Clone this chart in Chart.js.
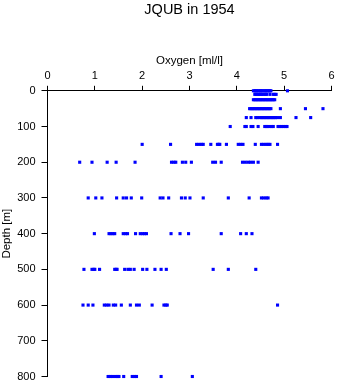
<!DOCTYPE html>
<html>
<head>
<meta charset="utf-8">
<script src="https://cdn.jsdelivr.net/npm/chart.js@4.4.1/dist/chart.umd.min.js"></script>
<style>
  html, body { margin: 0; padding: 0; background: #fff; }
</style>
</head>
<body>
<canvas id="oxygenChart" width="338" height="384"></canvas>
<script>
// Sampling depths (m)
const depths = [0, 10, 25, 50, 75, 100, 150, 200, 300, 400, 500, 600, 800];

// Oxygen readings (ml/l) at each depth
const oxy0 = [4.35, 4.38, 4.40, 4.42, 4.45, 4.47, 4.50, 4.52, 4.55, 4.58, 4.60, 4.63, 4.65, 4.68, 4.70, 4.72, 5.07];
const oxy10 = [4.38, 4.41, 4.44, 4.47, 4.50, 4.53, 4.56, 4.60, 4.63, 4.70, 4.77, 4.80, 4.83];
const oxy25 = [4.35, 4.38, 4.41, 4.44, 4.47, 4.50, 4.53, 4.56, 4.59, 4.62, 4.65, 4.68, 4.71, 4.74, 4.77, 4.80];
const oxy50 = [4.27, 4.30, 4.33, 4.36, 4.39, 4.42, 4.45, 4.48, 4.51, 4.54, 4.57, 4.60, 4.63, 4.66, 4.69, 4.72, 4.92, 5.45, 5.82];
const oxy75 = [4.20, 4.30, 4.40, 4.44, 4.49, 4.52, 4.55, 4.58, 4.61, 4.64, 4.67, 4.70, 4.73, 4.76, 4.79, 4.82, 4.86, 4.92, 5.25, 5.56];
const oxy100 = [3.86, 4.17, 4.20, 4.30, 4.34, 4.45, 4.59, 4.62, 4.65, 4.70, 4.74, 4.77, 4.87, 4.91, 4.95, 4.99, 5.03, 5.06];
const oxy150 = [2.00, 2.60, 3.15, 3.20, 3.25, 3.29, 3.45, 3.59, 3.62, 3.64, 3.78, 4.03, 4.08, 4.13, 4.39, 4.52, 4.57, 4.62, 4.66, 4.70, 4.86];
const oxy200 = [0.68, 0.94, 1.26, 1.45, 1.85, 2.62, 2.67, 2.71, 2.85, 2.92, 3.04, 3.49, 3.55, 3.67, 4.12, 4.18, 4.24, 4.29, 4.35, 4.45];
const oxy300 = [0.86, 1.02, 1.15, 1.46, 1.60, 1.67, 1.77, 1.99, 2.38, 2.44, 2.56, 2.83, 2.91, 3.01, 3.29, 3.82, 4.26, 4.52, 4.57, 4.62, 4.66];
const oxy400 = [0.99, 1.30, 1.34, 1.38, 1.42, 1.60, 1.65, 1.69, 1.86, 1.96, 2.01, 2.05, 2.09, 2.61, 2.80, 2.98, 3.67, 4.08, 4.20, 4.32];
const oxy500 = [0.77, 0.94, 0.98, 1.00, 1.10, 1.42, 1.45, 1.47, 1.63, 1.70, 1.75, 1.83, 2.01, 2.10, 2.27, 2.40, 2.51, 3.50, 3.82, 4.40];
const oxy600 = [0.75, 0.86, 0.96, 1.20, 1.25, 1.30, 1.39, 1.44, 1.56, 1.75, 1.88, 1.94, 2.21, 2.46, 2.50, 2.53, 4.86];
const oxy800 = [1.28, 1.33, 1.38, 1.43, 1.47, 1.51, 1.61, 1.79, 1.84, 1.88, 2.40, 3.06];

const oxygenByDepth = [oxy0, oxy10, oxy25, oxy50, oxy75, oxy100, oxy150, oxy200, oxy300, oxy400, oxy500, oxy600, oxy800];

// Flatten into {x: oxygen, y: depth} points
const points = [];
depths.forEach((d, i) => {
    oxygenByDepth[i].forEach(o => points.push({ x: o, y: d }));
});

const FONT = '"Liberation Sans", Arial, Helvetica, sans-serif';

const ctx = document.getElementById('oxygenChart').getContext('2d');

new Chart(ctx, {
    type: 'scatter',
    data: {
        datasets: [{
            data: points,
            backgroundColor: '#0000ff',
            pointStyle: 'rect',
            pointRadius: 2.2,
            pointBorderWidth: 0,
            clip: false
        }]
    },
    options: {
        responsive: false,
        animation: false,
        layout: { padding: { left: 0, right: 6.5, top: 0, bottom: 7.5 } },
        plugins: {
            legend: { display: false },
            tooltip: { enabled: false },
            title: {
                display: true,
                text: 'JQUB in 1954',
                fullSize: false, // center over the plot area
                color: '#000',
                font: { family: FONT, size: 14.5, weight: 'normal' },
                padding: { top: 1, bottom: 0 }
            }
        },
        scales: {
            x: {
                type: 'linear',
                position: 'top',
                min: 0,
                max: 6,
                ticks: { stepSize: 1, color: '#000', padding: 3, font: { family: FONT, size: 11 } },
                grid: { drawOnChartArea: false, drawTicks: true, tickLength: 5, color: '#000' },
                border: { display: true, color: '#000', width: 1 },
                title: {
                    display: true,
                    text: 'Oxygen [ml/l]',
                    color: '#000',
                    font: { family: FONT, size: 11.5 },
                    padding: { top: 36, bottom: 0 }
                },
                afterFit: (scale) => {
                    scale.height = 72.4;
                    // let the layout padding alone decide the plot edges
                    scale.paddingLeft = 0;
                    scale.paddingRight = 0;
                }
            },
            y: {
                type: 'linear',
                reverse: true,
                min: 0,
                max: 800,
                ticks: { stepSize: 100, color: '#000', padding: 6, font: { family: FONT, size: 11 } },
                grid: { drawOnChartArea: false, drawTicks: true, tickLength: 6, color: '#000' },
                border: { display: true, color: '#000', width: 1 },
                title: {
                    display: true,
                    text: 'Depth [m]',
                    color: '#000',
                    font: { family: FONT, size: 11.5 },
                    padding: 0
                },
                afterFit: (scale) => {
                    scale.width = 47.5;
                    scale.paddingTop = 0;
                    scale.paddingBottom = 0;
                }
            }
        }
    }
});
</script>
</body>
</html>
